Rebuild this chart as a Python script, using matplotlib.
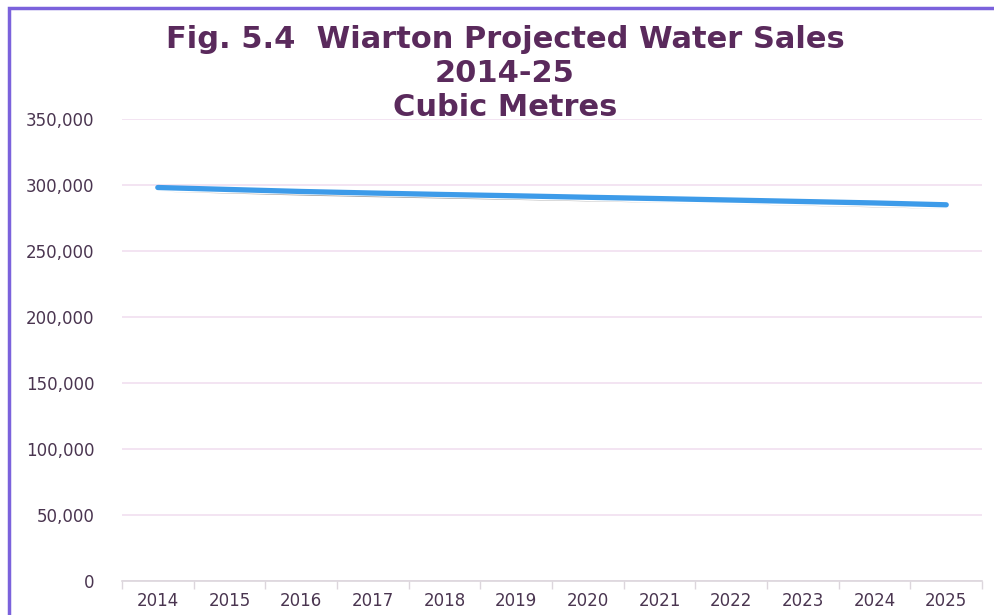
import matplotlib
matplotlib.use("Agg")
import matplotlib.pyplot as plt
import matplotlib.patheffects as pe
from matplotlib.patches import Rectangle
from matplotlib.ticker import FuncFormatter, MultipleLocator

years = ["2014", "2015", "2016", "2017", "2018", "2019", "2020", "2021", "2022", "2023", "2024", "2025"]
sales = [298100, 296600, 295100, 293900, 292800, 291800, 290700, 289700, 288600, 287500, 286400, 285000]
title_lines = ["Fig. 5.4  Wiarton Projected Water Sales", "2014-25", "Cubic Metres"]

title_color = "#5a2a5c"
tick_color = "#4a3550"
grid_color = "#f1dff0"
line_color = "#3d9be9"
border_color = "#7b62dc"

fig = plt.figure(figsize=(9.94, 6.15), dpi=100)
fig.patch.set_facecolor("white")

# frame border (left and top visible)
fig.patches.append(Rectangle((0.009, -0.1), 1.2, 1.087, transform=fig.transFigure,
                             fill=False, edgecolor=border_color, linewidth=2.5))

ax = fig.add_axes([0.1227, 0.0553, 0.8653, 0.7512])
x = list(range(len(years)))
ax.plot(x, sales, color=line_color, linewidth=3.8, solid_capstyle="round",
        path_effects=[pe.SimplePatchShadow(offset=(2, -3), shadow_rgbFace="#666666", alpha=0.6),
                      pe.Normal()], zorder=3)

ax.set_ylim(0, 350000)
ax.set_xlim(-0.5, len(years) - 0.5)
ax.yaxis.set_major_locator(MultipleLocator(50000))
ax.yaxis.set_major_formatter(FuncFormatter(lambda v, p: f"{int(v):,}"))
ax.grid(axis="y", color=grid_color, linewidth=1.2)
ax.set_axisbelow(True)
for s in ["top", "right", "left"]:
    ax.spines[s].set_visible(False)
ax.spines["bottom"].set_color("#dcd6dc")
ax.spines["bottom"].set_linewidth(1.2)

ax.set_xticks(x)
ax.set_xticklabels(years)
ax.set_xticks([i - 0.5 for i in range(len(years) + 1)], minor=True)
ax.tick_params(axis="x", which="major", length=0, pad=8, labelsize=12, labelcolor=tick_color)
ax.tick_params(axis="x", which="minor", length=6, color="#dcd6dc", width=1)
ax.tick_params(axis="y", length=0, pad=20, labelsize=12, labelcolor=tick_color)

ys = [0.935, 0.880, 0.826]
for t, yy in zip(title_lines, ys):
    fig.text(0.508, yy, t, ha="center", va="center", fontsize=22, fontweight="bold",
             color=title_color, family="DejaVu Sans")

fig.savefig("out.png", dpi=100, facecolor="white")
